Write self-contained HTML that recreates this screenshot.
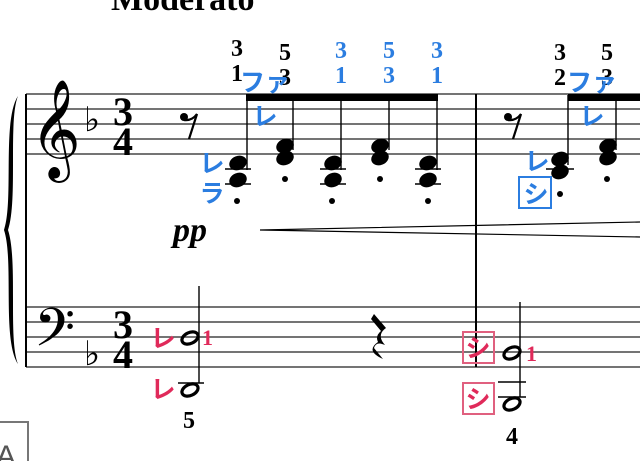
<!DOCTYPE html>
<html><head><meta charset="utf-8"><style>
html,body{margin:0;padding:0;background:#fff;}
svg{display:block;}
.s{font-family:"Liberation Serif",serif;font-weight:bold;}
.k{font-family:"Liberation Sans","Noto Sans CJK JP",sans-serif;font-weight:bold;}
.m{font-family:"DejaVu Sans",sans-serif;}
</style></head><body>
<svg width="640" height="461" viewBox="0 0 640 461" xmlns="http://www.w3.org/2000/svg">
<text x="111" y="10" class="s" font-size="34">Moderato</text>
<g stroke="#222" stroke-width="1.3">
<line x1="26" y1="94" x2="640" y2="94"/><line x1="26" y1="109" x2="640" y2="109"/><line x1="26" y1="124" x2="640" y2="124"/><line x1="26" y1="139" x2="640" y2="139"/><line x1="26" y1="154" x2="640" y2="154"/>
<line x1="26" y1="307" x2="640" y2="307"/><line x1="26" y1="322" x2="640" y2="322"/><line x1="26" y1="337" x2="640" y2="337"/><line x1="26" y1="352" x2="640" y2="352"/><line x1="26" y1="367" x2="640" y2="367"/>
</g>
<line x1="26" y1="94" x2="26" y2="367" stroke="#000" stroke-width="2"/>
<line x1="476" y1="94" x2="476" y2="367" stroke="#000" stroke-width="2"/>
<path d="M18 96 C2 120 14 200 4 230 C14 260 2 340 18 364 C8 340 18 260 8 230 C18 200 8 120 18 96Z" fill="#000"/>
<text x="30" y="158" class="m" font-size="86">𝄞</text>
<text x="34" y="356" class="m" font-size="64">𝄢</text>
<text x="84" y="131" class="m" font-size="34">♭</text>
<text x="84" y="365" class="m" font-size="34">♭</text>
<g class="s" font-size="40" text-anchor="middle">
<text x="123" y="125">3</text><text x="123" y="155">4</text>
<text x="123" y="338">3</text><text x="123" y="368">4</text>
</g>
<g fill="#000" stroke="#000">
<circle cx="184" cy="117" r="4" stroke="none"/><path d="M184 120 Q192 121 197 114 L189 139" fill="none" stroke-width="2.2"/>
<circle cx="508" cy="117" r="4" stroke="none"/><path d="M508 120 Q516 121 521 114 L513 139" fill="none" stroke-width="2.2"/>
</g>
<rect x="246" y="94" width="192" height="7" fill="#000"/>
<rect x="568" y="94" width="72" height="7" fill="#000"/>
<g fill="#000" stroke="#000">
<g stroke-width="1.5"><line x1="225" y1="169" x2="251" y2="169"/><line x1="225" y1="184" x2="251" y2="184"/>
<line x1="320" y1="169" x2="346" y2="169"/><line x1="320" y1="184" x2="346" y2="184"/>
<line x1="415" y1="169" x2="441" y2="169"/><line x1="415" y1="184" x2="441" y2="184"/>
<line x1="546" y1="169" x2="574" y2="169"/></g>
<g stroke-width="1.4"><line x1="247" y1="100" x2="247" y2="170"/><line x1="293" y1="100" x2="293" y2="150"/><line x1="341" y1="100" x2="341" y2="170"/><line x1="389" y1="100" x2="389" y2="150"/><line x1="437" y1="100" x2="437" y2="170"/>
<line x1="568" y1="95" x2="568" y2="165"/><line x1="616" y1="100" x2="616" y2="150"/></g>
<g stroke="none">
<ellipse cx="238" cy="163" rx="9" ry="7" transform="rotate(-22 238 163)"/><ellipse cx="238" cy="180" rx="9" ry="7" transform="rotate(-22 238 180)"/>
<ellipse cx="285" cy="146" rx="9" ry="7" transform="rotate(-22 285 146)"/><ellipse cx="285" cy="158" rx="9" ry="7" transform="rotate(-22 285 158)"/>
<ellipse cx="333" cy="163" rx="9" ry="7" transform="rotate(-22 333 163)"/><ellipse cx="333" cy="180" rx="9" ry="7" transform="rotate(-22 333 180)"/>
<ellipse cx="380" cy="146" rx="9" ry="7" transform="rotate(-22 380 146)"/><ellipse cx="380" cy="158" rx="9" ry="7" transform="rotate(-22 380 158)"/>
<ellipse cx="428" cy="163" rx="9" ry="7" transform="rotate(-22 428 163)"/><ellipse cx="428" cy="180" rx="9" ry="7" transform="rotate(-22 428 180)"/>
<ellipse cx="560" cy="159" rx="9" ry="7" transform="rotate(-22 560 159)"/><ellipse cx="560" cy="172" rx="9" ry="7" transform="rotate(-22 560 172)"/>
<ellipse cx="608" cy="146" rx="9" ry="7" transform="rotate(-22 608 146)"/><ellipse cx="608" cy="158" rx="9" ry="7" transform="rotate(-22 608 158)"/>
<circle cx="237" cy="201" r="3"/><circle cx="285" cy="179" r="3"/><circle cx="332" cy="201" r="3"/><circle cx="380" cy="179" r="3"/><circle cx="428" cy="201" r="3"/><circle cx="560" cy="194" r="3"/><circle cx="607" cy="179" r="3"/>
</g>
</g>
<g class="s" font-size="24" text-anchor="middle" fill="#000">
<text x="237" y="56">3</text><text x="237" y="81">1</text>
<text x="285" y="60">5</text><text x="285" y="85">3</text>
<text x="560" y="60">3</text><text x="560" y="85">2</text>
<text x="607" y="60">5</text><text x="607" y="85">3</text>
<text x="189" y="428">5</text><text x="512" y="444">4</text>
</g>
<g class="s" font-size="24" text-anchor="middle" fill="#2b7de0">
<text x="341" y="58">3</text><text x="341" y="83">1</text>
<text x="389" y="58">5</text><text x="389" y="83">3</text>
<text x="437" y="58">3</text><text x="437" y="83">1</text>
</g>
<g class="k" font-size="25" text-anchor="middle" fill="#2b7de0">
<text x="265" y="91">ファ</text><text x="265" y="125">レ</text>
<text x="212" y="172">レ</text><text x="212" y="202">ラ</text>
<text x="592" y="91">ファ</text><text x="592" y="125">レ</text>
<text x="537" y="170">レ</text><text x="536" y="203">シ</text>
</g>
<rect x="519" y="177" width="32" height="31" fill="none" stroke="#2b7de0" stroke-width="2"/>
<text x="173" y="241" font-family="Liberation Serif,serif" font-weight="bold" font-style="italic" font-size="34">pp</text>
<path d="M260 230 L640 222 M260 230 L640 237" stroke="#000" stroke-width="1.2" fill="none"/>
<g stroke="#000" fill="none">
<line x1="199" y1="286" x2="199" y2="383" stroke-width="1.4"/>
<line x1="178" y1="383" x2="204" y2="383" stroke-width="1.5"/>
<line x1="520" y1="302" x2="520" y2="397" stroke-width="1.4"/>
<line x1="498" y1="382" x2="526" y2="382" stroke-width="1.5"/><line x1="498" y1="397" x2="526" y2="397" stroke-width="1.5"/>
<ellipse cx="190" cy="338" rx="8.5" ry="5.5" stroke-width="3.2" transform="rotate(-25 190 338)"/>
<ellipse cx="190" cy="390" rx="8.5" ry="5.5" stroke-width="3.2" transform="rotate(-25 190 390)"/>
<ellipse cx="512" cy="353" rx="8.5" ry="5.5" stroke-width="3.2" transform="rotate(-25 512 353)"/>
<ellipse cx="512" cy="404" rx="8.5" ry="5.5" stroke-width="3.2" transform="rotate(-25 512 404)"/>
</g>
<path d="M374 314 L386 328 Q376 335 385 345 Q376 341 374 348 Q378 353 383 359 Q365 351 378 342 Q375 336 381 331 L371 319Z" fill="#000"/>
<g class="k" font-size="25" text-anchor="middle" fill="#e02a5a">
<text x="163" y="347">レ</text><text x="163" y="398">レ</text>
<text x="478" y="357">シ</text><text x="478" y="408">シ</text>
</g>
<g class="s" font-size="22" fill="#e02a5a"><text x="202" y="345">1</text><text x="526" y="361">1</text></g>
<rect x="463" y="332" width="31" height="31" fill="none" stroke="#e0607f" stroke-width="2"/>
<rect x="463" y="383" width="31" height="31" fill="none" stroke="#e0607f" stroke-width="2"/>
<rect x="-5" y="422" width="33" height="45" fill="none" stroke="#777" stroke-width="2"/>
<text x="-4" y="466" font-family="Liberation Sans,sans-serif" font-size="30" fill="#555">A</text>
</svg>
</body></html>
